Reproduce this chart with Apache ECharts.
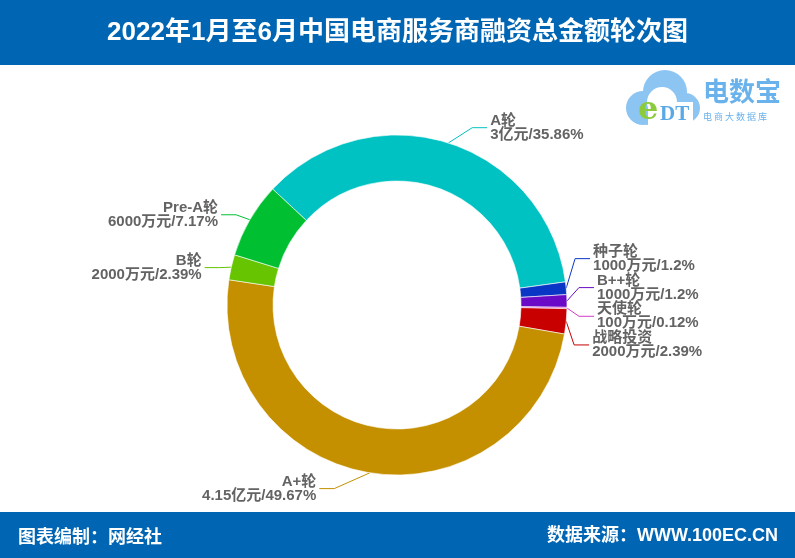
<!DOCTYPE html>
<html>
<head>
<meta charset="utf-8">
<title>2022年1月至6月中国电商服务商融资总金额轮次图</title>
<script src="https://cdn.jsdelivr.net/npm/echarts@6/dist/echarts.min.js"></script>
<style>
  html, body { margin: 0; padding: 0; background: #fff; }
  #chart { width: 795px; height: 558px; }
</style>
</head>
<body>
<div id="chart"></div>
<script>
// rounds, clockwise from the top-left
const roundNames = ['A轮', '种子轮', 'B++轮', '天使轮', '战略投资', 'A+轮', 'B轮', 'Pre-A轮']
// amounts in 万元
const amounts = [30000, 1000, 1000, 100, 2000, 41500, 2000, 6000]
const amountLabels = ['3亿元', '1000万元', '1000万元', '100万元', '2000万元', '4.15亿元', '2000万元', '6000万元']
const percents = ['35.86%', '1.2%', '1.2%', '0.12%', '2.39%', '49.67%', '2.39%', '7.17%']
const sliceColors = ['#00c2c2', '#0a36c6', '#6a0ac6', '#d23cc8', '#c80000', '#c49000', '#66c400', '#00c032']

const chart = echarts.init(document.getElementById('chart'))

const labelFont = '"Liberation Sans", "Noto Sans CJK SC", sans-serif'

// hand nudges of the label elbows (the labels were spread by hand in the original)
const labelNudge = {
  0: [19, 0], 1: [-7, -28], 2: [-4, -13], 3: [-4, 8],
  4: [-8, 22], 5: [-33, 0], 6: [4, 4], 7: [0, 3]
}

chart.setOption({
  animation: false,
  graphic: [
    { type: 'rect', shape: { x: 0, y: 0, width: 795, height: 65 }, style: { fill: '#0066b4' } },
    {
      type: 'text', left: 'center', top: 20,
      style: { text: '2022年1月至6月中国电商服务商融资总金额轮次图', fill: '#fff',
        font: 'bold 26px "Liberation Sans", "Noto Sans CJK SC", sans-serif' }
    },
    { type: 'rect', shape: { x: 0, y: 512, width: 795, height: 46 }, style: { fill: '#0066b4' } },
    {
      type: 'text', left: 18, top: 527,
      style: { text: '图表编制：网经社', fill: '#fff', font: 'bold 18px "Noto Sans CJK SC", sans-serif' }
    },
    {
      type: 'text', right: 17, top: 527,
      style: { text: '数据来源：WWW.100EC.CN', fill: '#fff', font: 'bold 18px "Liberation Sans", "Noto Sans CJK SC", sans-serif' }
    },
    // logo
    {
      type: 'group', left: 626, top: 70,
      children: [
        { type: 'circle', shape: { cx: 42, cy: 24, r: 22 }, style: { fill: '#8cc4f2' } },
        { type: 'circle', shape: { cx: 20, cy: 40, r: 17 }, style: { fill: '#8cc4f2' } },
        { type: 'circle', shape: { cx: 62, cy: 40, r: 15 }, style: { fill: '#8cc4f2' } },
        { type: 'rect', shape: { x: 18, y: 36, width: 48, height: 21, r: 8 }, style: { fill: '#8cc4f2' } },
        { type: 'circle', shape: { cx: 39, cy: 34, r: 15 }, style: { fill: '#ffffff' } },
        { type: 'rect', shape: { x: 25, y: 34, width: 45, height: 26 }, style: { fill: '#ffffff' } },
        {
          type: 'text', x: 15, y: 27,
          style: { text: 'e', fill: '#8ccc3c', font: 'bold 32px "DejaVu Serif", serif' }
        },
        {
          type: 'text', x: 37, y: 36,
          style: { text: 'DT', fill: '#5aa8e6', font: 'bold 21px "Liberation Serif", serif' }
        },
        {
          type: 'text', x: 80, y: 10,
          style: { text: '电数宝', fill: '#6ab2ec', font: 'bold 26px "Noto Sans CJK SC", sans-serif' }
        },
        {
          type: 'text', x: 80, y: 44,
          style: { text: '电 商 大 数 据 库', fill: '#6ab2ec', font: '9px "Noto Sans CJK SC", sans-serif' }
        }
      ]
    }
  ],
  series: [{
    type: 'pie',
    center: [397, 305],
    radius: [124, 170],
    startAngle: 137,
    clockwise: true,
    avoidLabelOverlap: false,
    itemStyle: { borderColor: '#fff', borderWidth: 0.6 },
    label: {
      show: true,
      color: '#636363',
      fontWeight: 'bold',
      fontSize: 15,
      lineHeight: 14,
      fontFamily: labelFont,
      distanceToLabelLine: 3,
      formatter: p => p.name + '\n' + amountLabels[p.dataIndex] + '/' + percents[p.dataIndex]
    },
    labelLine: { show: true, length: 16, length2: 15, lineStyle: { width: 1 } },
    labelLayout: function (params) {
      const n = labelNudge[params.dataIndex]
      if (!n || !params.labelLinePoints) return {}
      const pts = params.labelLinePoints.map(p => [p[0], p[1]])
      pts[1][0] += n[0]; pts[1][1] += n[1]
      pts[2][0] += n[0]; pts[2][1] += n[1]
      return { dx: n[0], dy: n[1], labelLinePoints: pts }
    },
    data: roundNames.map((n, i) => ({
      name: n,
      value: amounts[i],
      itemStyle: { color: sliceColors[i] }
    }))
  }]
})
</script>
</body>
</html>
